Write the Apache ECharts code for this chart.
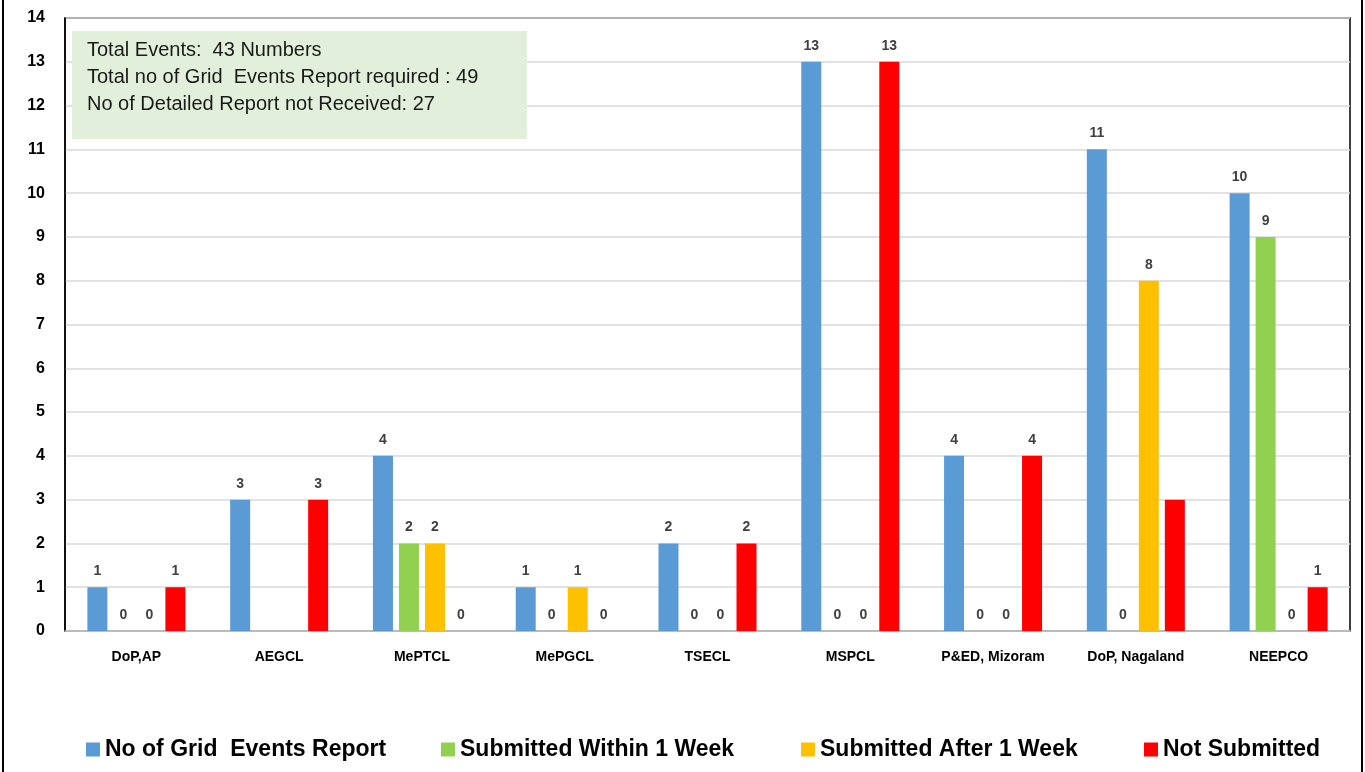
<!DOCTYPE html>
<html>
<head>
<meta charset="utf-8">
<script src="https://cdn.jsdelivr.net/npm/echarts@6/dist/echarts.min.js"></script>
<style>
html,body{margin:0;padding:0;background:#fff;}
#chart{width:1365px;height:772px;}
</style>
</head>
<body>
<div id="chart"></div>
<script>
var categories = ['DoP,AP','AEGCL','MePTCL','MePGCL','TSECL','MSPCL','P&ED, Mizoram','DoP, Nagaland','NEEPCO'];
var seriesNames = ['No of Grid  Events Report','Submitted Within 1 Week','Submitted After 1 Week','Not Submitted'];
var gridEvents   = [1, 3, 4, 1, 2, 13, 4, 11, 10];
var withinWeek   = [0, null, 2, 0, 0, 0, 0, 0, 9];
var afterWeek    = [0, null, 2, 1, 0, 0, 0, 8, 0];
var notSubmitted = [1, 3, 0, 0, 2, 13, 4, 3, 1];
var hiddenLabels = [[], [], [], ['DoP, Nagaland']];
var infoLines = ['Total Events:  43 Numbers','Total no of Grid  Events Report required : 49','No of Detailed Report not Received: 27'];
var colors = ['#5b9bd5','#92d050','#ffc000','#ff0000'];

var FONT = '"Liberation Sans", Arial, sans-serif';
var chart = echarts.init(document.getElementById('chart'), null, {renderer:'canvas'});
var allData = [gridEvents, withinWeek, afterWeek, notSubmitted];
var legendLefts = [81, 436, 796, 1139];

var series = allData.map(function(arr, i){
  return {
    name: seriesNames[i],
    type: 'bar',
    barWidth: 20,
    barGap: '30%',
    itemStyle: {color: colors[i]},
    label: {show:true, position:'top', distance:9, color:'#404040', fontWeight:'bold', fontSize:14, fontFamily:FONT},
    data: arr.map(function(v, j){
      if (hiddenLabels[i].indexOf(categories[j]) >= 0) return {value:v, label:{show:false}};
      return v;
    })
  };
});

var legends = seriesNames.map(function(n, i){
  return {
    left: legendLefts[i], top: 733, itemWidth:14, itemHeight:14, itemGap:6,
    icon:'rect',
    textStyle:{fontSize:23, fontWeight:'bold', color:'#000', fontFamily:FONT},
    data:[n]
  };
});

chart.setOption({
  animation:false,
  textStyle:{fontFamily:FONT},
  grid:{left:65, right:15, top:18, bottom:141, show:true, borderColor:'#000', borderWidth:1.5},
  legend: legends,
  xAxis:{
    type:'category', data:categories,
    axisTick:{show:false},
    axisLine:{lineStyle:{color:'#bfbfbf', width:1.5}},
    axisLabel:{color:'#000', fontWeight:'bold', fontSize:14, margin:19, fontFamily:FONT, interval:0}
  },
  yAxis:{
    type:'value', min:0, max:14, interval:1,
    axisLine:{show:true, lineStyle:{color:'#000', width:1.5}},
    axisTick:{show:false},
    splitLine:{lineStyle:{color:'#d9d9d9', width:1.5}},
    axisLabel:{color:'#000', fontWeight:'bold', fontSize:16, margin:20, fontFamily:FONT}
  },
  graphic:[
    {type:'line', shape:{x1:3, y1:0, x2:3, y2:772}, style:{stroke:'#000', lineWidth:2}},
    {type:'line', shape:{x1:1362, y1:0, x2:1362, y2:772}, style:{stroke:'#000', lineWidth:2}},
    {type:'rect', shape:{x:72, y:31, width:455, height:108}, style:{fill:'#e2efda'}, z:10},
    {type:'text', left:87, top:37, z:11, style:{text:infoLines.join('\n'), fontSize:20, lineHeight:27, fill:'#1a1a1a', fontFamily:FONT}}
  ],
  series: series
});
</script>
</body>
</html>
